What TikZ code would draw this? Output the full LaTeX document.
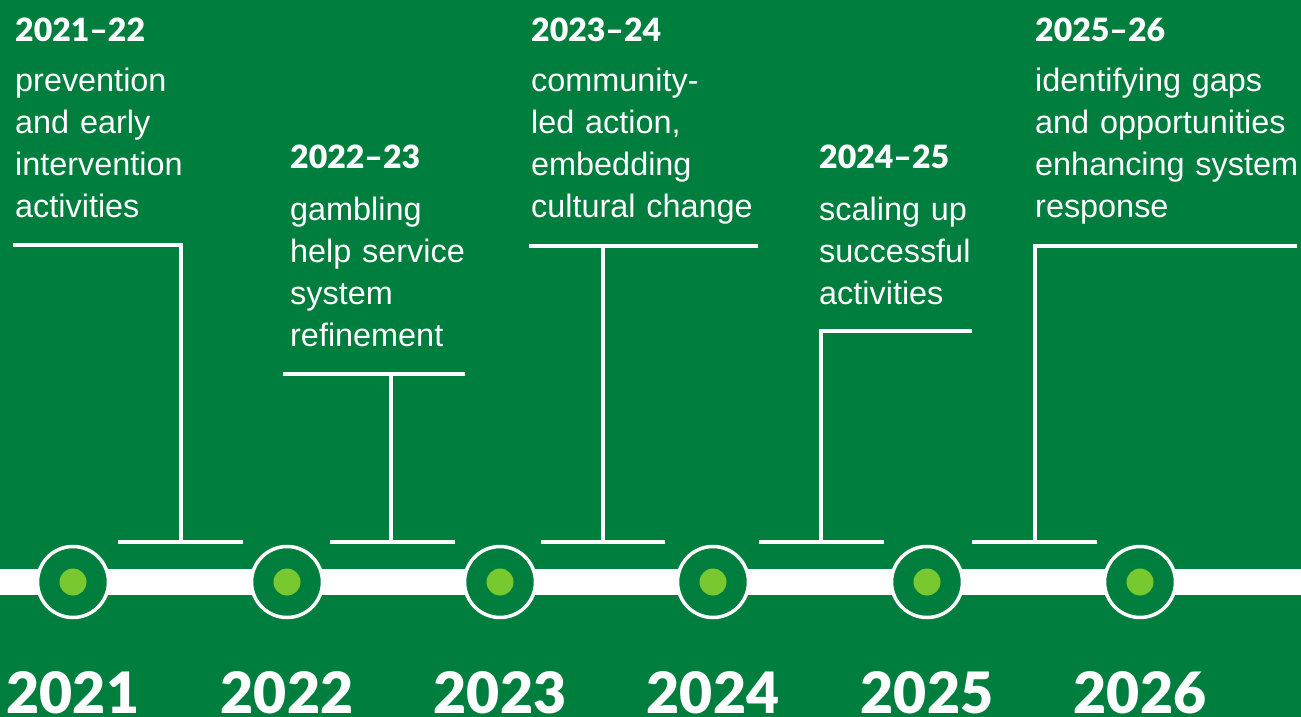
\documentclass[tikz,border=0pt]{standalone}
\usepackage{fontspec}
\setmainfont{Liberation Sans}
\newfontfamily\heavyfont{Lato Black}
\definecolor{bggreen}{RGB}{0,126,62}
\definecolor{dotgreen}{RGB}{120,200,48}
\tikzset{
  conn/.style={draw=white, line width=4.5pt, line join=miter},
  ring/.style={circle, draw=white, line width=3.5pt, fill=bggreen, minimum size=71pt, inner sep=0pt},
  dot/.style={circle, fill=dotgreen, minimum size=27pt, inner sep=0pt},
  yearlbl/.style={anchor=base, text=white, inner sep=0pt, text depth=0pt, font=\heavyfont\fontsize{57}{57}\selectfont},
  heading/.style={anchor=base west, text=white, inner sep=0pt, font=\heavyfont\fontsize{32}{32}\selectfont},
  body/.style={anchor=base west, text=white, inner sep=0pt, align=left, text width=300pt, font=\fontsize{32.4}{42}\selectfont}
}
\begin{document}
\begin{tikzpicture}[x=1pt, y=-1pt]
\useasboundingbox (0,0) rectangle (1301,717);
\clip (0,0) rectangle (1301,717);
\fill[bggreen] (0,0) rectangle (1301,717);
% timeline band
\fill[white] (0,569) rectangle (1301,595);
% circles
\foreach \i/\x/\yr in {1/73/2021, 2/287/2022, 3/500/2023, 4/713/2024, 5/927/2025, 6/1140/2026}{
  \node[ring] (c\i) at (\x,582) {};
  \node[dot] (d\i) at (c\i) {};
  \node[yearlbl] (y\i) at (\x,713) {\yr};
}
% connector coordinates
\coordinate (b1l) at (118,542); \coordinate (b1r) at (243,542); \coordinate (b1m) at (181,542);
\coordinate (t1l) at (13,245);  \coordinate (t1m) at (181,245);
\coordinate (b2l) at (330,542); \coordinate (b2r) at (455,542); \coordinate (b2m) at (391,542);
\coordinate (t2l) at (283,374); \coordinate (t2r) at (465,374); \coordinate (t2m) at (391,374);
\coordinate (b3l) at (541,542); \coordinate (b3r) at (665,542); \coordinate (b3m) at (603,542);
\coordinate (t3l) at (529,246); \coordinate (t3r) at (758,246); \coordinate (t3m) at (603,246);
\coordinate (b4l) at (759,542); \coordinate (b4r) at (884,542); \coordinate (b4m) at (821,542);
\coordinate (t4m) at (821,331); \coordinate (t4r) at (972,331);
\coordinate (b5l) at (972,542); \coordinate (b5r) at (1097,542); \coordinate (b5m) at (1035,542);
\coordinate (t5m) at (1035,246); \coordinate (t5r) at (1297,246);
% connectors
\draw[conn] (b1l) -- (b1r);
\draw[conn] (t1l) -- (t1m) -- (b1m);
\draw[conn] (b2l) -- (b2r);
\draw[conn] (t2l) -- (t2r);
\draw[conn] (t2m) -- (b2m);
\draw[conn] (b3l) -- (b3r);
\draw[conn] (t3l) -- (t3r);
\draw[conn] (t3m) -- (b3m);
\draw[conn] (b4l) -- (b4r);
\draw[conn] (b4m) -- (t4m) -- (t4r);
\draw[conn] (b5l) -- (b5r);
\draw[conn] (b5m) -- (t5m) -- (t5r);
% texts
\node[heading] (h1) at (15,42) {2021–22};
\node[body] (p1) at (15,92) {prevention\\and early\\intervention\\activities};
\node[heading] (h2) at (290,168) {2022–23};
\node[body] (p2) at (290,220) {gambling\\help service\\system\\refinement};
\node[heading] (h3) at (531,42) {2023–24};
\node[body] (p3) at (531,92) {community-\\led action,\\embedding\\cultural change};
\node[heading] (h4) at (819,168) {2024–25};
\node[body] (p4) at (819,220) {scaling up\\successful\\activities};
\node[heading] (h5) at (1035,42) {2025–26};
\node[body] (p5) at (1035,92) {identifying gaps\\and opportunities\\enhancing system\\response};
\end{tikzpicture}
\end{document}
